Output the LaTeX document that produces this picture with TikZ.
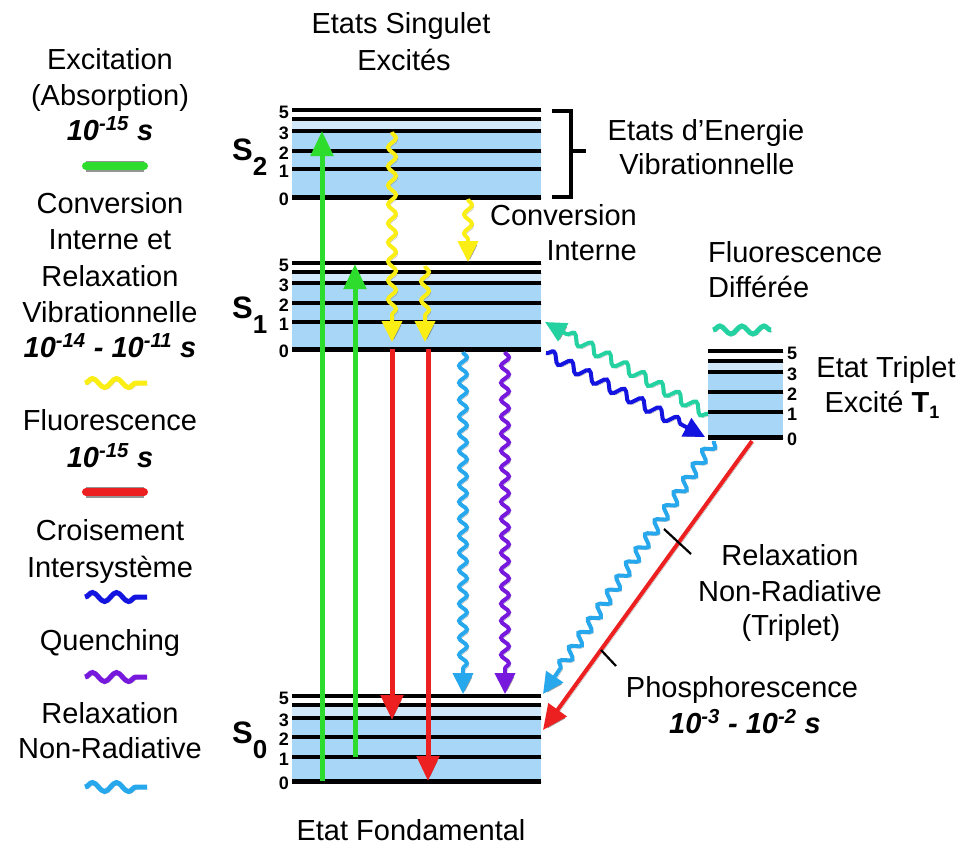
\documentclass[tikz,border=0pt]{standalone}
\usepackage{fontspec}
\setmainfont{Liberation Sans}
\usetikzlibrary{arrows.meta,decorations.pathmorphing}
\definecolor{lvlblue}{RGB}{168,214,246}
\definecolor{lvlpale}{RGB}{208,232,250}
\definecolor{exgreen}{RGB}{45,220,45}
\definecolor{flred}{RGB}{236,32,32}
\definecolor{icyellow}{RGB}{250,238,20}
\definecolor{iscblue}{RGB}{20,20,225}
\definecolor{qpurple}{RGB}{118,25,220}
\definecolor{nrcyan}{RGB}{40,168,236}
\definecolor{dfteal}{RGB}{35,210,160}
\newcommand\drawlevels[8]{%
  \fill[lvlpale] (#1,#4) rectangle (#2,#5);
  \fill[lvlblue] (#1,#5) rectangle (#2,#8);
  \foreach \yy in {#3,#4,#5,#6,#7} \draw[lvl] (#1,\yy) -- (#2,\yy);
  \draw[lvl,line width=5pt] (#1,#8) -- (#2,#8);
}
\newcommand\lowsub[1]{\raisebox{-15pt}{\fontsize{26}{26}\selectfont\bfseries #1}}
\begin{document}
\begin{tikzpicture}[x=1pt,y=-1pt,
  lvl/.style={line width=4pt,black,line cap=butt,
    preaction={draw=black!50,opacity=0.3,transform canvas={shift={(1pt,-1.5pt)}}}},
  lab/.style={font=\fontsize{29}{35}\selectfont,inner sep=0pt,anchor=base},
  tlab/.style={font=\fontsize{29}{35}\selectfont\bfseries\itshape,inner sep=0pt,anchor=base},
  num/.style={font=\fontsize{18}{18}\selectfont\bfseries,inner sep=0pt},
  slab/.style={font=\fontsize{31}{31}\selectfont\bfseries,inner sep=0pt,anchor=base west},
  shad/.style={preaction={draw=black!80,opacity=0.4,transform canvas={shift={(1.8pt,-2pt)}}}},
  straightarrow/.style={shad,line width=5pt,-{Triangle[width=22pt,length=25pt]}},
  wavearrow/.style={shad,line width=4pt,decorate,-{Triangle[width=20pt,length=21pt]},
    decoration={snake,amplitude=4pt,segment length=19pt,post length=23pt}},
  legwave/.style={shad,line width=5pt,decorate,
    decoration={snake,amplitude=4.5pt,segment length=24pt}},
  legbar/.style={line width=8pt,line cap=round,
    preaction={draw=black!60,line width=11pt,opacity=0.7}},
  tick/.style={line width=2.2pt,black}]
\useasboundingbox (0,0) rectangle (964,846);

% ---------------- energy levels ----------------
\drawlevels{292}{541}{110}{119}{131}{151}{169}{197}
\drawlevels{292}{541}{263}{272}{283}{303}{322}{349}
\drawlevels{292}{541}{696}{705}{718}{737}{757}{781}
\drawlevels{708}{783}{351}{361}{372}{392}{412}{437}

\foreach \d/\yy in {5/110,3/131,2/151,1/169,0/197}
  \node[num,anchor=base east] (sa\d) at (289,\yy+8) {\d};
\foreach \d/\yy in {5/263,3/283,2/303,1/322,0/349}
  \node[num,anchor=base east] (sb\d) at (289,\yy+8) {\d};
\foreach \d/\yy in {5/696,3/718,2/737,1/757,0/781}
  \node[num,anchor=base east] (sc\d) at (289,\yy+8) {\d};
\foreach \d/\yy in {5/351,3/372,2/392,1/412,0/437}
  \node[num,anchor=base west] (td\d) at (787,\yy+8) {\d};

\node[slab] (S2) at (232,160) {S\lowsub{2}};
\node[slab] (S1) at (232,318) {S\lowsub{1}};
\node[slab] (S0) at (232,743) {S\lowsub{0}};

% bracket
\draw[line width=3.5pt,line join=miter] (552,111) -- (571,111) -- (571,197) -- (552,197);
\draw[line width=3.5pt] (571,151) -- (586,151);

% ---------------- coordinates ----------------
\coordinate (g1a) at (322,781); \coordinate (g1b) at (322,131);
\coordinate (g2a) at (355,757); \coordinate (g2b) at (355,264);
\coordinate (r1a) at (392,349); \coordinate (r1b) at (392,720);
\coordinate (r2a) at (428,349); \coordinate (r2b) at (428,781);
\coordinate (y1a) at (392,132); \coordinate (y1b) at (392,342);
\coordinate (y2a) at (425,266); \coordinate (y2b) at (425,342);
\coordinate (y3a) at (468,199); \coordinate (y3b) at (468,262);
\coordinate (c1a) at (463,352); \coordinate (c1b) at (463,694);
\coordinate (p1a) at (505,352); \coordinate (p1b) at (505,694);
\coordinate (tla) at (708,414); \coordinate (tlb) at (545,322);
\coordinate (bla) at (546,353); \coordinate (blb) at (705,437);
\coordinate (c2a) at (714,441); \coordinate (c2b) at (543,694);
\coordinate (r3a) at (752,441); \coordinate (r3b) at (543,730);

% ---------------- transitions ----------------
\draw[straightarrow,exgreen] (g1a) -- (g1b);
\draw[straightarrow,exgreen] (g2a) -- (g2b);
\draw[straightarrow,flred] (r1a) -- (r1b);
\draw[straightarrow,flred] (r2a) -- (r2b);
\draw[wavearrow,icyellow] (y1a) -- (y1b);
\draw[wavearrow,icyellow] (y2a) -- (y2b);
\draw[wavearrow,icyellow,decoration={snake,amplitude=4pt,segment length=19pt,post length=21pt}] (y3a) -- (y3b);
\draw[wavearrow,nrcyan,decoration={snake,amplitude=4pt,segment length=17pt,post length=23pt}] (c1a) -- (c1b);
\draw[wavearrow,qpurple,decoration={snake,amplitude=4pt,segment length=17pt,post length=23pt}] (p1a) -- (p1b);
\draw[wavearrow,dfteal,decoration={snake,amplitude=5pt,segment length=20pt,post length=23pt}] (tla) -- (tlb);
\draw[wavearrow,iscblue,decoration={snake,amplitude=5pt,segment length=20pt,post length=23pt}] (bla) -- (blb);
\draw[wavearrow,nrcyan,decoration={snake,amplitude=5pt,segment length=17pt,post length=23pt}] (c2a) -- (c2b);
\draw[straightarrow,flred,line width=4pt] (r3a) -- (r3b);

% leader ticks
\coordinate (k1a) at (664,529); \coordinate (k1b) at (691,554);
\coordinate (k2a) at (601,650); \coordinate (k2b) at (616,666);
\draw[tick] (k1a) -- (k1b);
\draw[tick] (k2a) -- (k2b);

% delayed fluorescence legend wave
\coordinate (dwa) at (713,330); \coordinate (dwb) at (771,330);
\draw[legwave,dfteal,decoration={snake,amplitude=4pt,segment length=22pt}] (dwa) -- (dwb);

% ---------------- labels ----------------
\node[lab] (tsing1) at (401,33) {Etats Singulet};
\node[lab] (tsing2) at (404,70) {Excités};
\node[lab] (tvib1) at (706,140) {Etats d’Energie};
\node[lab] (tvib2) at (707,174) {Vibrationnelle};
\node[lab,anchor=base east] (tci1) at (637,225) {Conversion};
\node[lab,anchor=base east] (tci2) at (637,260) {Interne};
\node[lab,anchor=base west] (tfd1) at (708,262) {Fluorescence};
\node[lab,anchor=base west] (tfd2) at (708,297) {Différée};
\node[lab] (ttr1) at (886,377) {Etat Triplet};
\node[lab] (ttr2) at (882,412) {Excité \textbf{T}\raisebox{-6pt}{\fontsize{18}{18}\selectfont\bfseries 1}};
\node[lab] (tnr1) at (790,565) {Relaxation};
\node[lab] (tnr2) at (790,601) {Non-Radiative};
\node[lab] (tnr3) at (791,635) {(Triplet)};
\node[lab] (tph1) at (742,697) {Phosphorescence};
\node[tlab] (tph2) at (745,733) {10\textsuperscript{-3} - 10\textsuperscript{-2} s};
\node[lab] (tfond) at (411,840) {Etat Fondamental};

% ---------------- legend ----------------
\node[lab] (le1) at (110,69) {Excitation};
\node[lab] (le2) at (110,105) {(Absorption)};
\node[tlab] (le3) at (110,140) {10\textsuperscript{-15} s};
\coordinate (lga) at (86,166); \coordinate (lgb) at (144,166);
\draw[legbar,exgreen] (lga) -- (lgb);

\node[lab] (lc1) at (110,213) {Conversion};
\node[lab] (lc2) at (110,249) {Interne et};
\node[lab] (lc3) at (110,286) {Relaxation};
\node[lab] (lc4) at (110,322) {Vibrationnelle};
\node[tlab] (lc5) at (110,357) {10\textsuperscript{-14} - 10\textsuperscript{-11} s};
\coordinate (lya) at (85,383); \coordinate (lyb) at (147,383);
\draw[legwave,icyellow] (lya) -- (lyb);

\node[lab] (lf1) at (110,430) {Fluorescence};
\node[tlab] (lf2) at (110,467) {10\textsuperscript{-15} s};
\coordinate (lra) at (86,492); \coordinate (lrb) at (144,492);
\draw[legbar,flred] (lra) -- (lrb);

\node[lab] (li1) at (110,540) {Croisement};
\node[lab] (li2) at (110,577) {Intersystème};
\coordinate (lba) at (85,597); \coordinate (lbb) at (147,597);
\draw[legwave,iscblue] (lba) -- (lbb);

\node[lab] (lq1) at (110,650) {Quenching};
\coordinate (lpa) at (85,677); \coordinate (lpb) at (147,677);
\draw[legwave,qpurple] (lpa) -- (lpb);

\node[lab] (ln1) at (110,723) {Relaxation};
\node[lab] (ln2) at (110,758) {Non-Radiative};
\coordinate (lca) at (85,787); \coordinate (lcb) at (147,787);
\draw[legwave,nrcyan] (lca) -- (lcb);
\end{tikzpicture}
\end{document}
